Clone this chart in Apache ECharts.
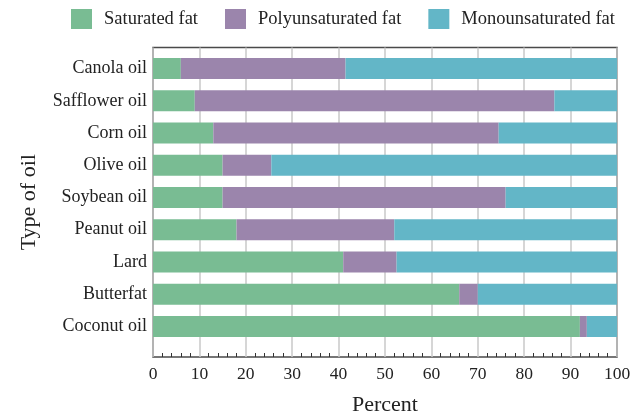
<!DOCTYPE html>
<html>
<head>
<meta charset="utf-8">
<script src="https://cdn.jsdelivr.net/npm/echarts@6/dist/echarts.min.js"></script>
<style>
html,body{margin:0;padding:0;background:#fff;}
#chart{width:631px;height:415px;}
</style>
</head>
<body>
<div id="chart"></div>
<script>
var categories = ['Canola oil','Safflower oil','Corn oil','Olive oil','Soybean oil','Peanut oil','Lard','Butterfat','Coconut oil'];
var saturated = [6, 9, 13, 15, 15, 18, 41, 66, 92];
var polyunsaturated = [35.5, 77.5, 61.5, 10.5, 61, 34, 11.5, 4, 1.5];
var monounsaturated = [58.5, 13.5, 25.5, 74.5, 24, 48, 47.5, 30, 6.5];
var seriesNames = ['Saturated fat', 'Polyunsaturated fat', 'Monounsaturated fat'];
var colors = ['#79BC93', '#9B85AC', '#63B6C7'];

var FONT = '"Liberation Serif", "Times New Roman", serif';
var chart = echarts.init(document.getElementById('chart'), null, {renderer: 'canvas'});

function barSeries(i, data) {
  return {
    name: seriesNames[i], type: 'bar', stack: 'total',
    xAxisIndex: 1, yAxisIndex: 1,
    barWidth: 21, data: data,
    itemStyle: {color: colors[i]},
    emphasis: {disabled: true}
  };
}

chart.setOption({
  animation: false,
  color: colors,
  legend: {
    left: 71, top: 9, padding: 0,
    itemWidth: 21, itemHeight: 20, itemGap: 27,
    icon: 'rect',
    data: seriesNames,
    textStyle: {fontFamily: FONT, fontSize: 18.5, color: '#222', padding: [0, 0, 0, 7]}
  },
  grid: [
    {left: 153, right: 14, top: 47.5, bottom: 58, outerBoundsMode: 'none', containLabel: false,
     show: true, borderColor: '#4a4a4a', borderWidth: 1.5, backgroundColor: 'transparent'},
    {left: 153, right: 14, top: 52.4, bottom: 72.4, outerBoundsMode: 'none', containLabel: false}
  ],
  xAxis: [
    {
      gridIndex: 0, type: 'value', min: 0, max: 100, interval: 10,
      axisLine: {show: false},
      axisTick: {show: false, inside: true, length: 4},
      minorTick: {show: true, splitNumber: 5, length: 4, lineStyle: {color: '#333', width: 1}},
      splitLine: {show: true, lineStyle: {color: '#c8c8c8', width: 1.5}},
      axisLabel: {fontFamily: FONT, fontSize: 17.5, color: '#222', margin: 8},
      name: 'Percent', nameLocation: 'middle', nameGap: 37,
      nameTextStyle: {fontFamily: FONT, fontSize: 22, color: '#222'}
    },
    {gridIndex: 1, type: 'value', min: 0, max: 100, show: false}
  ],
  yAxis: [
    {
      gridIndex: 0, type: 'value', min: 0, max: 1,
      axisLine: {show: false}, axisTick: {show: false}, axisLabel: {show: false}, splitLine: {show: false},
      name: 'Type of oil', nameLocation: 'middle', nameGap: 113,
      nameTextStyle: {fontFamily: FONT, fontSize: 22, color: '#222'}
    },
    {
      gridIndex: 1, type: 'category', data: categories, inverse: true,
      axisLine: {show: false}, axisTick: {show: false},
      axisLabel: {fontFamily: FONT, fontSize: 18, color: '#222', margin: 6}
    }
  ],
  series: [
    barSeries(0, saturated),
    barSeries(1, polyunsaturated),
    barSeries(2, monounsaturated)
  ]
});
</script>
</body>
</html>
